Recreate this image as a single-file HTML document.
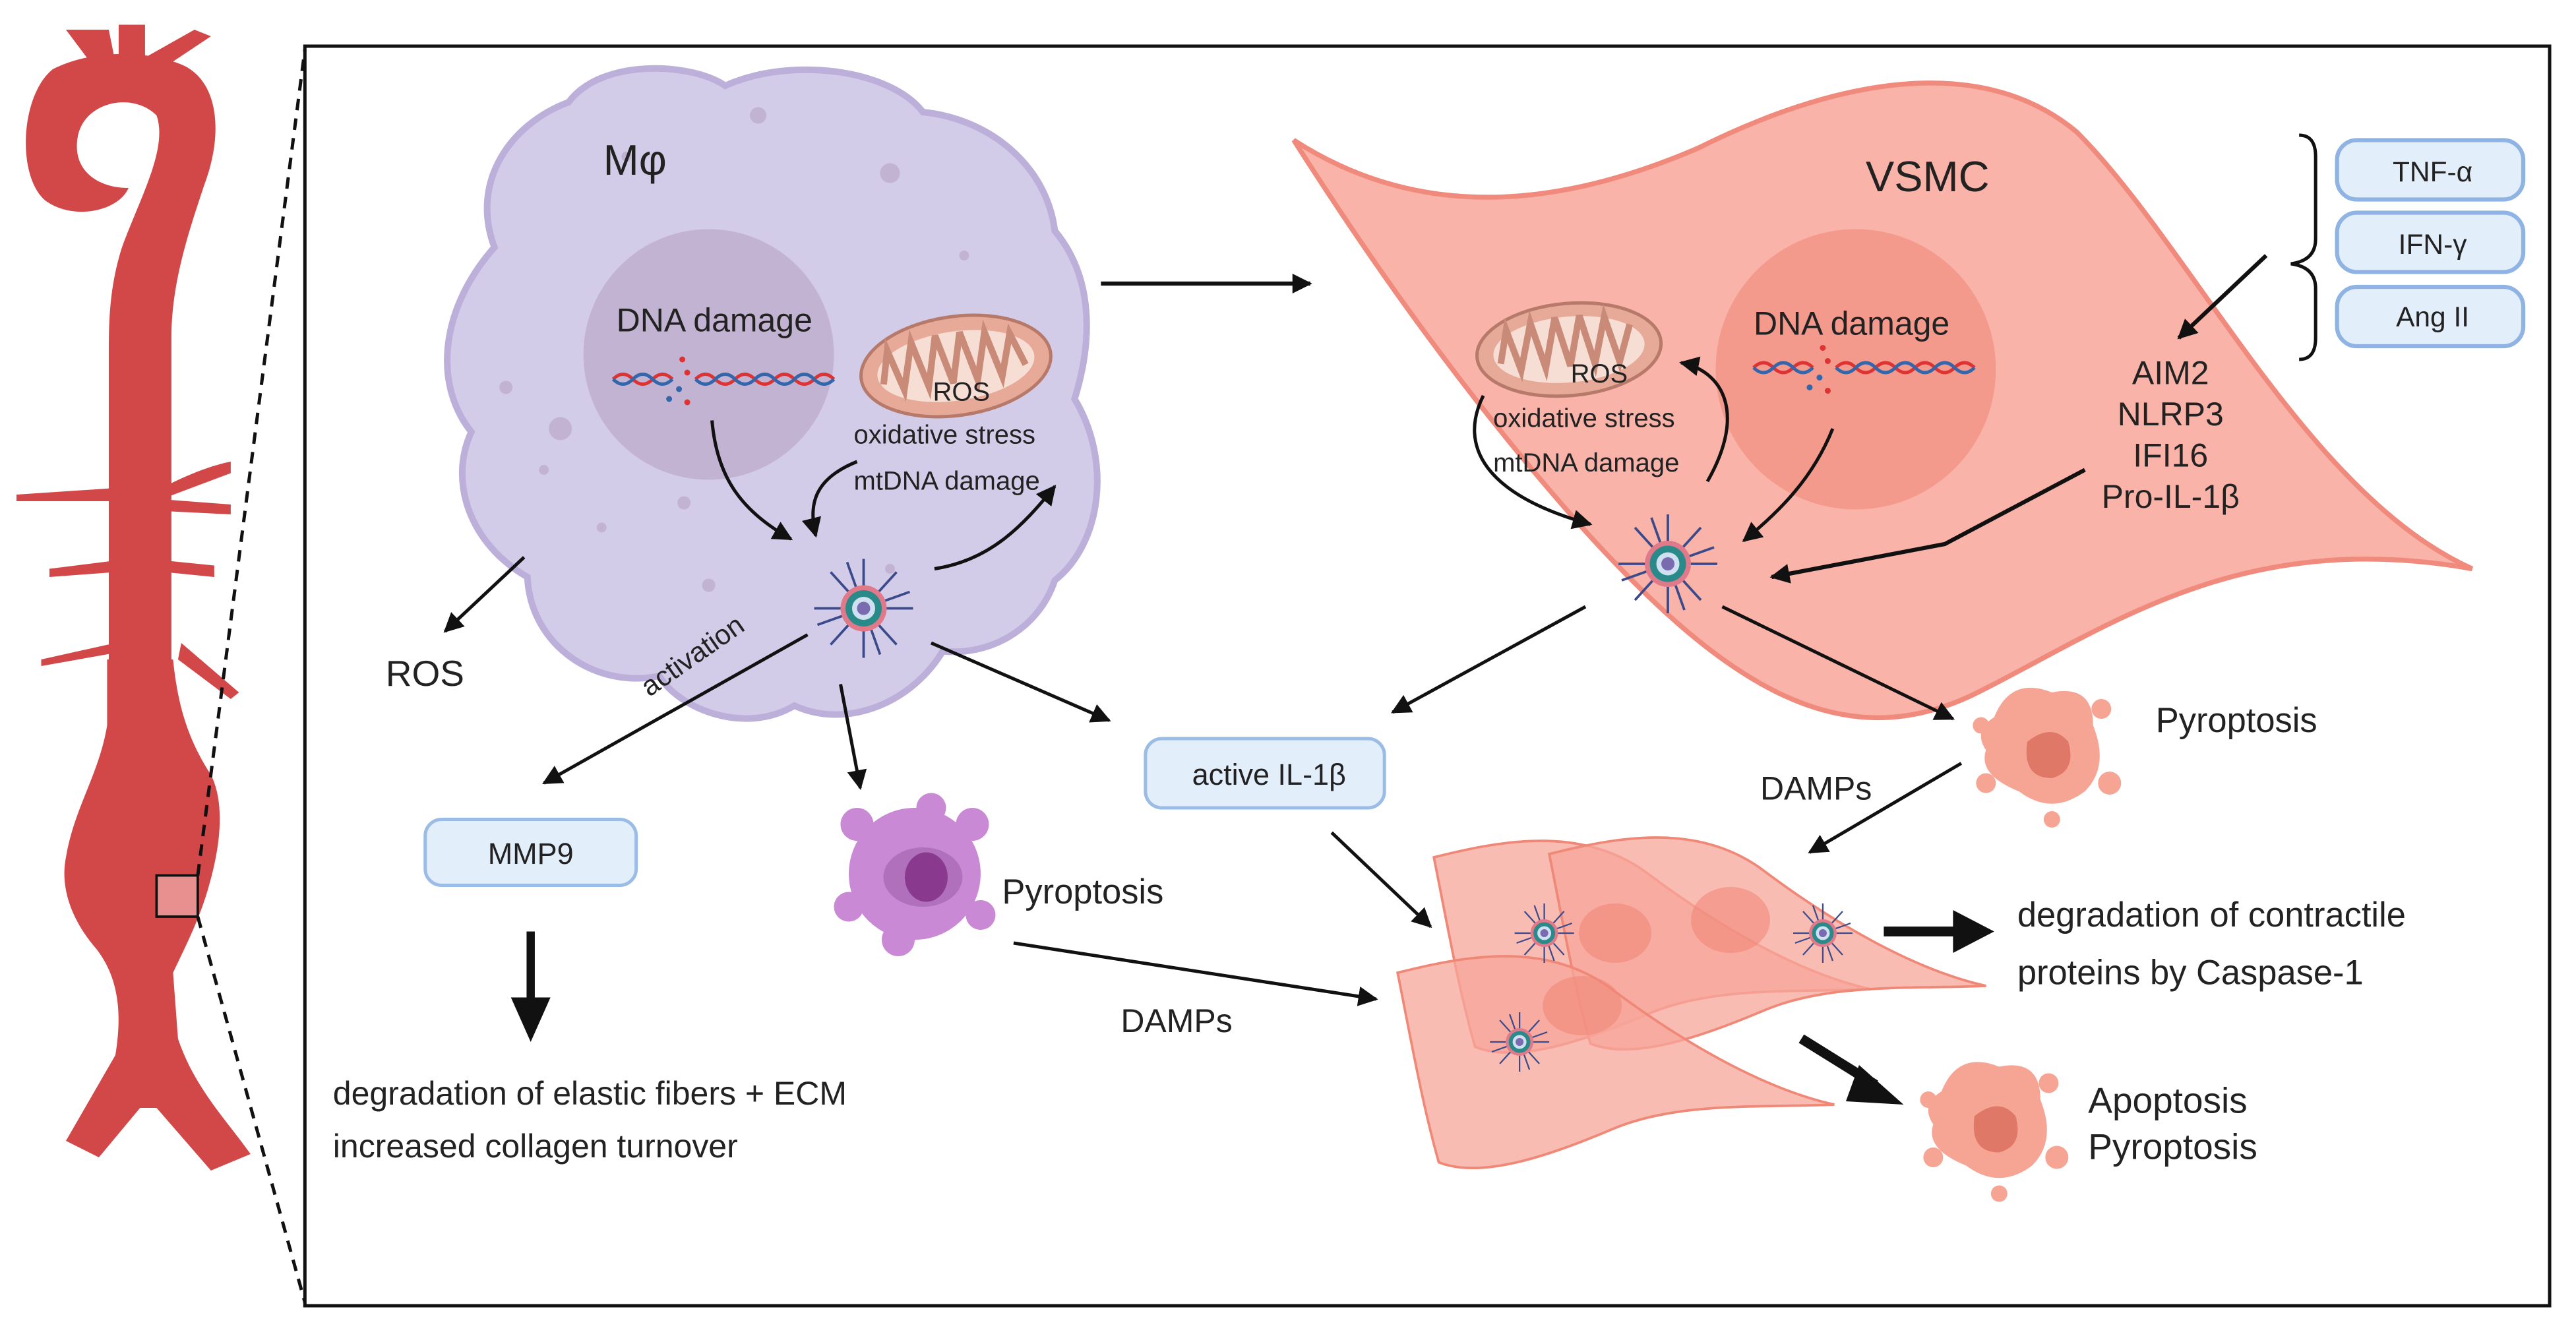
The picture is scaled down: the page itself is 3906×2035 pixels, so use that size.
<!DOCTYPE html>
<html><head><meta charset="utf-8"><style>
html,body{margin:0;padding:0;background:#fff}
svg{display:block}
text{font-family:"Liberation Sans",sans-serif;fill:#222}
</style></head><body>
<svg width="3906" height="2035" viewBox="0 0 1563 814" preserveAspectRatio="none" xmlns="http://www.w3.org/2000/svg">
<defs>
<marker id="a" viewBox="0 0 10 10" refX="9" refY="5" markerWidth="12" markerHeight="12" orient="auto" markerUnits="userSpaceOnUse"><path d="M0,0 L10,5 L0,10 Z" fill="#111"/></marker>
<g id="infl">
<g stroke="#3a4a8a" stroke-width="1.5">
<line x1="0" y1="-30" x2="0" y2="30"/><line x1="-30" y1="0" x2="30" y2="0"/>
<line x1="-20" y1="-22" x2="20" y2="22"/><line x1="20" y1="-22" x2="-20" y2="22"/>
<line x1="-10" y1="-28" x2="10" y2="28"/><line x1="28" y1="-10" x2="-28" y2="10"/>
</g>
<circle r="14" fill="#e07a8a"/><circle r="11" fill="#2a8a8a"/><circle r="7" fill="#cfe0f0"/><circle r="4" fill="#7a6ab0"/>
</g>
<g id="dna">
<path d="M0,0 q6,-6 12,0 t12,0 t12,0" stroke="#d33" stroke-width="2" fill="none"/>
<path d="M0,0 q6,6 12,0 t12,0 t12,0" stroke="#36a" stroke-width="2" fill="none"/>
<path d="M50,0 q6,-6 12,0 t12,0 t12,0 t12,0 t12,0 t12,0 t12,0" stroke="#d33" stroke-width="2" fill="none"/>
<path d="M50,0 q6,6 12,0 t12,0 t12,0 t12,0 t12,0 t12,0 t12,0" stroke="#36a" stroke-width="2" fill="none"/>
<circle cx="42" cy="-12" r="1.8" fill="#d33"/><circle cx="45" cy="-4" r="1.8" fill="#d33"/><circle cx="40" cy="6" r="1.8" fill="#36a"/><circle cx="34" cy="12" r="1.8" fill="#36a"/><circle cx="45" cy="14" r="1.8" fill="#d33"/>
</g>
<g id="dead">
<path d="M-30,-20 q10,-25 35,-15 q25,-5 25,20 q10,25 -5,40 q-20,15 -40,0 q-25,-10 -20,-25 q-8,-12 5,-20 z" fill="#f6a595"/>
<path d="M-10,-5 q15,-12 25,0 q5,18 -10,22 q-18,0 -15,-22z" fill="#e07868"/>
<circle cx="35" cy="-25" r="6" fill="#f6a595"/><circle cx="40" cy="20" r="7" fill="#f6a595"/><circle cx="-35" cy="20" r="6" fill="#f6a595"/><circle cx="5" cy="42" r="5" fill="#f6a595"/><circle cx="-38" cy="-15" r="5" fill="#f6a595"/>
</g>
<g id="smc">
<path d="M0,0 C40,-10 90,-20 130,10 C170,40 220,70 265,80 C220,82 170,78 130,95 C90,112 50,125 25,115 C15,80 8,40 0,0 Z" fill="#f7a59a" fill-opacity="0.75" stroke="#f08878" stroke-width="1.5"/>
</g>
</defs>

<!-- aorta -->
<g fill="#d24848">
<path d="M32,42 C12,58 10,108 28,122 C45,134 72,128 78,114 C60,114 44,104 47,84 C50,62 80,55 95,70 C102,90 85,120 74,150 C67,172 66,192 66,212 L66,410 L104,410 L104,205 C104,172 114,142 124,112 C136,80 132,50 112,40 C90,30 55,30 32,42 Z"/>
<path d="M40,18 L55,38 L70,38 L66,18 Z M72,15 L88,15 L88,38 L72,38Z M86,36 L118,18 L128,22 L98,42Z"/>
<path d="M65,400 L105,400 C108,430 115,450 128,470 C138,490 132,520 126,540 C120,560 112,575 105,590 L108,630 C118,660 138,680 152,700 L128,710 L95,672 L85,672 L60,702 L40,692 L70,640 C75,610 70,590 58,575 C45,560 36,540 40,520 C45,490 60,470 65,440Z"/>
<path d="M10,300 L70,296 L70,304 L10,304Z M100,295 C110,290 125,283 140,280 L140,287 L100,302Z M100,303 L140,306 L140,312 L100,310Z M30,345 L70,340 L70,347 L30,350Z M100,340 L130,343 L130,350 L100,347Z M25,400 L70,390 L70,396 L25,404Z M110,390 L145,420 L140,424 L108,400Z M90,450 L125,470 L122,476 L88,458Z"/>
</g>
<rect x="95" y="531" width="25" height="25" fill="#e89090" stroke="#111" stroke-width="1.5"/>
<line x1="120" y1="531" x2="185" y2="30" stroke="#111" stroke-width="2" stroke-dasharray="7,5"/>
<line x1="120" y1="556" x2="185" y2="790" stroke="#111" stroke-width="2" stroke-dasharray="7,5"/>
<rect x="185" y="28" width="1362" height="764" fill="none" stroke="#111" stroke-width="2"/>

<!-- Macrophage -->
<path d="M300,150 C285,110 310,75 345,62 C365,35 420,38 440,52 C480,34 540,42 560,68 C600,72 635,100 640,140 C665,170 662,210 652,242 C675,280 668,330 640,352 C630,382 600,398 572,395 C552,428 512,442 482,428 C452,446 412,430 400,410 C362,418 322,392 320,350 C285,330 272,292 286,262 C262,232 268,186 300,150 Z" fill="#d3cce9" stroke="#bcafd9" stroke-width="4"/>
<circle cx="430" cy="215" r="76" fill="#c3b3d3"/>
<g fill="#c3b3d3"><circle cx="460" cy="70" r="5"/><circle cx="540" cy="105" r="6"/><circle cx="340" cy="260" r="7"/><circle cx="307" cy="235" r="4"/><circle cx="330" cy="285" r="3"/><circle cx="365" cy="320" r="3"/><circle cx="415" cy="305" r="4"/><circle cx="585" cy="155" r="3"/><circle cx="540" cy="345" r="3"/><circle cx="430" cy="355" r="4"/><circle cx="380" cy="95" r="3"/></g>
<text x="366" y="106" font-size="26">Mφ</text>
<text x="374" y="201" font-size="20">DNA damage</text>
<use href="#dna" x="372" y="230"/>
<g transform="translate(580,222) rotate(-8)">
<ellipse rx="58" ry="30" fill="#e8aa98" stroke="#b77a6a" stroke-width="2"/>
<ellipse rx="48" ry="21" fill="#f7ded4"/>
<path d="M-45,5 L-40,-15 L-33,10 L-25,-18 L-18,10 L-10,-20 L-3,10 L5,-20 L12,10 L20,-18 L27,10 L35,-15 L42,5" stroke="#c98a78" stroke-width="4" fill="none"/>
</g>
<text x="566" y="243" font-size="16">ROS</text>
<text x="518" y="269" font-size="16">oxidative stress</text>
<text x="518" y="297" font-size="16">mtDNA damage</text>
<use href="#infl" x="524" y="369"/>
<path d="M432,255 C435,290 450,310 480,327" stroke="#111" stroke-width="2" fill="none" marker-end="url(#a)"/>
<path d="M520,280 C495,290 490,305 495,325" stroke="#111" stroke-width="2" fill="none" marker-end="url(#a)"/>
<path d="M567,345 C600,340 620,320 640,295" stroke="#111" stroke-width="2" fill="none" marker-end="url(#a)"/>
<line x1="318" y1="338" x2="270" y2="383" stroke="#111" stroke-width="2" marker-end="url(#a)"/>
<text x="234" y="416" font-size="22">ROS</text>
<text x="0" y="0" font-size="17" transform="translate(394,423) rotate(-35)">activation</text>
<line x1="490" y1="385" x2="330" y2="475" stroke="#111" stroke-width="2" marker-end="url(#a)"/>
<line x1="510" y1="415" x2="522" y2="478" stroke="#111" stroke-width="2" marker-end="url(#a)"/>
<line x1="565" y1="390" x2="673" y2="437" stroke="#111" stroke-width="2" marker-end="url(#a)"/>
<rect x="258" y="497" width="128" height="40" rx="10" fill="#e3eefb" stroke="#9bbce4" stroke-width="2"/>
<text x="322" y="524" font-size="18" text-anchor="middle">MMP9</text>
<line x1="322" y1="565" x2="322" y2="615" stroke="#111" stroke-width="5"/>
<path d="M310,605 L334,605 L322,632 Z" fill="#111"/>
<text x="202" y="670" font-size="20">degradation of elastic fibers + ECM</text>
<text x="202" y="702" font-size="20">increased collagen turnover</text>
<!-- purple pyroptosis -->
<g>
<circle cx="555" cy="530" r="40" fill="#c989d4"/>
<circle cx="520" cy="500" r="10" fill="#c989d4"/><circle cx="590" cy="500" r="10" fill="#c989d4"/><circle cx="515" cy="550" r="9" fill="#c989d4"/><circle cx="595" cy="555" r="9" fill="#c989d4"/><circle cx="545" cy="570" r="10" fill="#c989d4"/><circle cx="565" cy="490" r="9" fill="#c989d4"/>
<ellipse cx="560" cy="532" rx="24" ry="18" fill="#b070bc"/>
<ellipse cx="562" cy="532" rx="13" ry="15" fill="#8a3a8e"/>
</g>
<text x="608" y="548" font-size="21">Pyroptosis</text>
<line x1="615" y1="572" x2="835" y2="606" stroke="#111" stroke-width="2" marker-end="url(#a)"/>
<text x="680" y="626" font-size="20">DAMPs</text>

<!-- VSMC -->
<line x1="668" y1="172" x2="795" y2="172" stroke="#111" stroke-width="2.5" marker-end="url(#a)"/>
<path d="M785,85 C820,140 880,230 960,320 C1050,420 1120,460 1200,420 C1280,380 1360,320 1500,345 C1400,300 1330,150 1260,80 C1200,30 1110,50 1030,90 C960,120 870,140 785,85 Z" fill="#f9b3a8" stroke="#f08a7c" stroke-width="3"/>
<circle cx="1126" cy="224" r="85" fill="#f39a8d"/>
<text x="1132" y="116" font-size="26">VSMC</text>
<text x="1064" y="203" font-size="20">DNA damage</text>
<use href="#dna" x="1064" y="223"/>
<g transform="translate(952,212) rotate(-5)">
<ellipse rx="56" ry="28" fill="#e8aa98" stroke="#b77a6a" stroke-width="2"/>
<ellipse rx="46" ry="20" fill="#f7ded4"/>
<path d="M-42,5 L-37,-15 L-30,10 L-22,-18 L-15,10 L-7,-20 L0,10 L8,-20 L15,10 L23,-18 L30,10 L38,-12" stroke="#c98a78" stroke-width="4" fill="none"/>
</g>
<text x="953" y="232" font-size="16">ROS</text>
<text x="906" y="259" font-size="16">oxidative stress</text>
<text x="906" y="286" font-size="16">mtDNA damage</text>
<use href="#infl" x="1012" y="342"/>
<path d="M900,240 C885,270 900,300 965,318" stroke="#111" stroke-width="2" fill="none" marker-end="url(#a)"/>
<path d="M1036,292 C1060,250 1045,225 1020,220" stroke="#111" stroke-width="2" fill="none" marker-end="url(#a)"/>
<path d="M1112,260 C1100,290 1080,310 1058,328" stroke="#111" stroke-width="2" fill="none" marker-end="url(#a)"/>
<path d="M1265,285 L1180,330 L1075,350" stroke="#111" stroke-width="2.5" fill="none" marker-end="url(#a)"/>
<path d="M1395,82 Q1405,82 1405,95 L1405,145 Q1405,158 1390,160 Q1405,162 1405,175 L1405,205 Q1405,218 1395,218" stroke="#111" stroke-width="2" fill="none"/>
<line x1="1375" y1="155" x2="1322" y2="205" stroke="#111" stroke-width="2.5" marker-end="url(#a)"/>
<g fill="#e3eefb" stroke="#8fb3e3" stroke-width="2.5">
<rect x="1418" y="85" width="113" height="36" rx="12"/>
<rect x="1418" y="129" width="113" height="36" rx="12"/>
<rect x="1418" y="174" width="113" height="36" rx="12"/>
</g>
<text x="1476" y="110" font-size="17" text-anchor="middle">TNF-α</text>
<text x="1476" y="154" font-size="17" text-anchor="middle">IFN-γ</text>
<text x="1476" y="198" font-size="17" text-anchor="middle">Ang II</text>
<g font-size="20" text-anchor="middle">
<text x="1317" y="233">AIM2</text><text x="1317" y="258">NLRP3</text><text x="1317" y="283">IFI16</text><text x="1317" y="308">Pro-IL-1β</text>
</g>
<line x1="962" y1="368" x2="845" y2="432" stroke="#111" stroke-width="2" marker-end="url(#a)"/>
<line x1="1045" y1="368" x2="1185" y2="436" stroke="#111" stroke-width="2" marker-end="url(#a)"/>
<rect x="695" y="448" width="145" height="42" rx="10" fill="#e3eefb" stroke="#9bbce4" stroke-width="2"/>
<text x="770" y="476" font-size="18" text-anchor="middle">active IL-1β</text>
<use href="#dead" x="1240" y="455"/>
<text x="1308" y="444" font-size="21">Pyroptosis</text>
<text x="1068" y="485" font-size="20">DAMPs</text>
<line x1="1190" y1="463" x2="1098" y2="517" stroke="#111" stroke-width="2" marker-end="url(#a)"/>
<line x1="808" y1="505" x2="868" y2="562" stroke="#111" stroke-width="2" marker-end="url(#a)"/>
<!-- smooth muscle cells cluster -->
<use href="#smc" x="870" y="520"/>
<use href="#smc" x="940" y="518"/>
<use href="#smc" x="848" y="590"/>
<ellipse cx="980" cy="566" rx="22" ry="18" fill="#f08878" fill-opacity="0.6"/>
<ellipse cx="1050" cy="558" rx="24" ry="20" fill="#f08878" fill-opacity="0.6"/>
<ellipse cx="960" cy="610" rx="24" ry="18" fill="#f08878" fill-opacity="0.6"/>
<use href="#infl" transform="translate(937,566) scale(0.6)"/>
<use href="#infl" transform="translate(1106,566) scale(0.6)"/>
<use href="#infl" transform="translate(922,632) scale(0.6)"/>
<line x1="1143" y1="565" x2="1190" y2="565" stroke="#111" stroke-width="6"/>
<path d="M1185,552 L1210,565 L1185,578 Z" fill="#111"/>
<text x="1224" y="562" font-size="21">degradation of contractile</text>
<text x="1224" y="597" font-size="21">proteins by Caspase-1</text>
<line x1="1093" y1="630" x2="1138" y2="658" stroke="#111" stroke-width="6"/>
<path d="M1128,646 L1155,670 L1120,668 Z" fill="#111"/>
<use href="#dead" x="1208" y="682"/>
<text x="1267" y="675" font-size="22">Apoptosis</text>
<text x="1267" y="703" font-size="22">Pyroptosis</text>
</svg>
</body></html>
